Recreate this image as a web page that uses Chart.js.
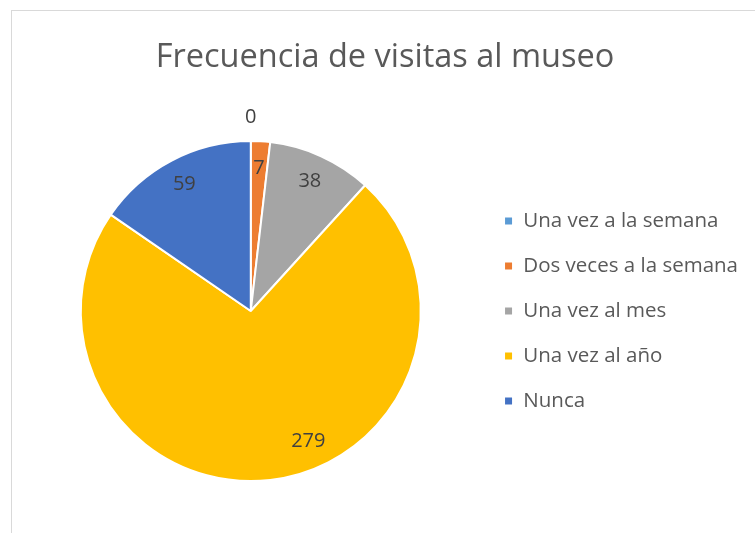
<!DOCTYPE html>
<html>
<head>
<meta charset="utf-8">
<script src="https://cdn.jsdelivr.net/npm/chart.js@4"></script>
<style>
  html, body { margin: 0; padding: 0; background: #fff; overflow: hidden; }
  #box { position: absolute; left: 11px; top: 10px; width: 770px; height: 540px;
         border-left: 1px solid #d9d9d9; border-top: 1px solid #d9d9d9; }
  #myChart { position: absolute; left: 2px; top: 2px; }
</style>
</head>
<body>
<div id="box"><canvas id="myChart" width="760" height="522"></canvas></div>
<script>
const categories = [
  "Una vez a la semana",
  "Dos veces a la semana",
  "Una vez al mes",
  "Una vez al año",
  "Nunca",
];
const visitas = [0, 7, 38, 279, 59];
const colores = ["#5B9BD5", "#ED7D31", "#A5A5A5", "#FFC000", "#4472C4"];

// etiquetas de datos como en Excel (ajuste "mejor ajuste" para la porción grande)
const dataLabels = {
  id: "dataLabels",
  afterDatasetsDraw(chart) {
    const ctx = chart.ctx;
    const meta = chart.getDatasetMeta(0);
    ctx.save();
    ctx.font = "20px 'Open Sans'";
    ctx.fillStyle = "#404040";
    ctx.textAlign = "center";
    ctx.textBaseline = "middle";
    meta.data.forEach((arc, i) => {
      const p = arc.getProps(["x", "y", "startAngle", "endAngle", "outerRadius"], true);
      let mid = (p.startAngle + p.endAngle) / 2;
      if (p.endAngle - p.startAngle > Math.PI) mid -= 0.3;
      const r = visitas[i] === 0 ? p.outerRadius + 24 : p.outerRadius * 0.84;
      ctx.fillText(String(visitas[i]), p.x + Math.cos(mid) * r, p.y + Math.sin(mid) * r);
    });
    ctx.restore();
  },
};

const ctx = document.getElementById("myChart").getContext("2d");
const myChart = new Chart(ctx, {
  type: "pie",
  data: {
    labels: categories,
    datasets: [
      {
        data: visitas,
        backgroundColor: colores,
        borderColor: "#ffffff",
        borderWidth: 2,
      },
    ],
  },
  options: {
    responsive: false,
    animation: false,
    layout: {
      padding: { left: 8, right: 26, top: 0, bottom: 53 },
    },
    plugins: {
      title: {
        display: true,
        text: "Frecuencia de visitas al museo",
        color: "#595959",
        font: { family: "'Open Sans'", size: 32.5, weight: "normal", lineHeight: 1.2 },
        padding: { top: 25, bottom: 63 },
      },
      legend: {
        position: "right",
        fullSize: false,
        labels: {
          color: "#595959",
          font: { family: "'Open Sans'", size: 20.5 },
          boxWidth: 9,
          boxHeight: 9,
          padding: 24.5,
        },
      },
      tooltip: { enabled: false },
    },
  },
  plugins: [dataLabels],
});
</script>
</body>
</html>
